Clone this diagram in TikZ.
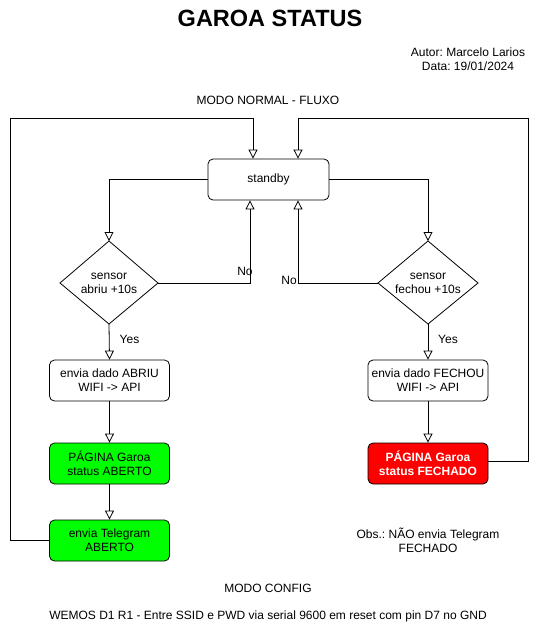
\documentclass[tikz,border=0pt]{standalone}
\usepackage{fontspec}
\setmainfont{Liberation Sans}
\usetikzlibrary{arrows.meta}
\definecolor{boxgreen}{HTML}{00FF00}
\definecolor{boxred}{HTML}{FF0000}
\frenchspacing
\begin{document}
\begin{tikzpicture}[x=1pt,y=-1pt,
  txt/.style={font=\fontsize{12}{14}\selectfont, align=center, inner sep=0pt},
  procbox/.style={draw, line width=0.8pt, rounded corners=5pt, minimum width=120pt, minimum height=41pt, font=\fontsize{12}{14}\selectfont, align=center, inner sep=0pt},
  decbox/.style={draw, line width=0.8pt, font=\fontsize{12}{14}\selectfont, align=center},
  flow/.style={line width=0.8pt, -{Triangle[open, length=9pt, width=9pt]}},
  lbl/.style={font=\fontsize{12}{14}\selectfont, inner sep=0pt}]
\useasboundingbox (0,0) rectangle (544,632);

\node[font=\fontsize{23.5}{26}\selectfont\bfseries, inner sep=0pt] (title) at (270,18) {GAROA STATUS};
\node[txt] (autor) at (468,59) {Autor: Marcelo Larios\\Data: 19/01/2024};
\node[txt] (modon) at (268,100) {MODO NORMAL - FLUXO};

\node[procbox, minimum width=121pt] (standby) at (268.5,179.5) {standby};

\draw[decbox] (60,283) -- (109,241) -- (158,283) -- (109,324) -- cycle;
\node[txt] (dleft) at (109,283) {sensor\\abriu +10s};
\coordinate (dlT) at (109,241);
\coordinate (dlR) at (158,283);
\coordinate (dlB) at (109,324);

\draw[decbox] (378,283) -- (428,241) -- (478,283) -- (428,324) -- cycle;
\node[txt] (dright) at (428,283) {sensor\\fechou +10s};
\coordinate (drT) at (428,241);
\coordinate (drL) at (378,283);
\coordinate (drB) at (428,324);

\node[procbox] (envab) at (109.5,380.5) {envia dado ABRIU\\WIFI -> API};
\node[procbox] (envfe) at (428,380.5) {envia dado FECHOU\\WIFI -> API};
\node[procbox, fill=boxgreen] (pgab) at (109.5,463.5) {PÁGINA Garoa\\status ABERTO};
\node[procbox, fill=boxred, text=white, font=\fontsize{12}{14}\selectfont\bfseries] (pgfe) at (428,463.5) {PÁGINA Garoa\\status FECHADO};
\node[procbox, fill=boxgreen] (tele) at (109.5,540.5) {envia Telegram\\ABERTO};

\node[txt] (obs) at (428,540) {Obs.: NÃO envia Telegram\\FECHADO};
\node[txt] (modoc) at (268,588) {MODO CONFIG};
\node[txt] (wemos) at (268,616) {WEMOS D1 R1 - Entre SSID e PWD via serial 9600 em reset com pin D7 no GND};

% standby to diamonds
\draw[flow] (standby.west) -| (dlT);
\draw[flow] (standby.east) -| (drT);

% No branches
\coordinate (noL) at (250,283);
\draw[flow] (dlR) -- (noL) -- (noL |- standby.south);
\node[lbl, anchor=south] (nol) at (245,276) {No};
\coordinate (noR) at (298,283);
\draw[flow] (drL) -- (noR) -- (noR |- standby.south);
\node[lbl, anchor=east] (nor) at (297,280) {No};

% Yes branches
\draw[flow] (dlB) -- (envab.north);
\node[lbl] (yesl) at (129.5,339) {Yes};
\draw[flow] (drB) -- (envfe.north);
\node[lbl] (yesr) at (448,339) {Yes};

\draw[flow] (envab.south) -- (pgab.north);
\draw[flow] (pgab.south) -- (tele.north);
\draw[flow] (envfe.south) -- (pgfe.north);

% loops back to standby
\coordinate (lc1) at (10,540.5);
\coordinate (lc2) at (10,118);
\coordinate (lc3) at (253,118);
\draw[flow] (tele.west) -- (lc1) -- (lc2) -- (lc3) -- (lc3 |- standby.north);
\coordinate (rc1) at (528,461);
\coordinate (rc2) at (528,118);
\coordinate (rc3) at (298,118);
\draw[flow] (pgfe.east |- rc1) -- (rc1) -- (rc2) -- (rc3) -- (rc3 |- standby.north);
\end{tikzpicture}
\end{document}
